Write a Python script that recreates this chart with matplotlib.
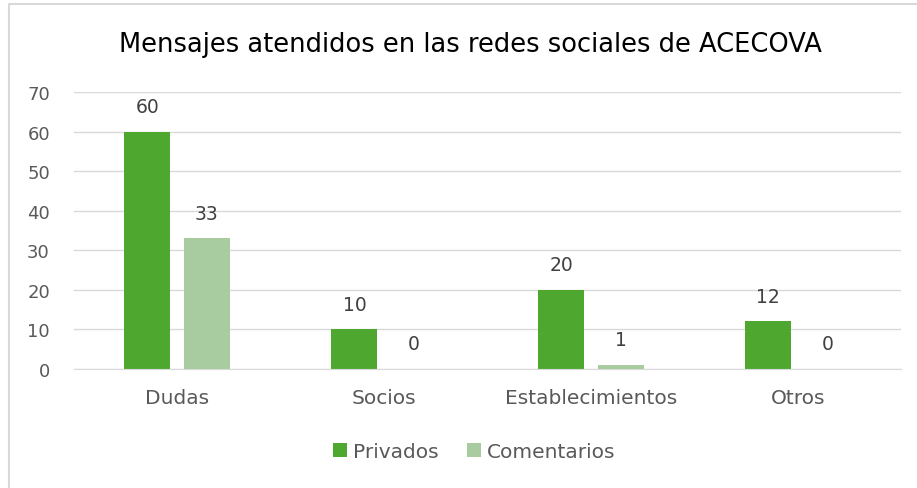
import matplotlib.pyplot as plt
import numpy as np
from matplotlib.lines import Line2D

categories = ['Dudas', 'Socios', 'Establecimientos', 'Otros']
privados = [60, 10, 20, 12]
comentarios = [33, 0, 1, 0]

text_color = '#595959'
green = '#4EA72E'
light_green = '#A9CBA0'

fig = plt.figure(figsize=(9.17, 4.89), dpi=100)
# chart border (only top and left edges are visible in the crop)
fig.lines.append(Line2D([0.0093, 0.0093, 1.0], [0.0, 0.99, 0.99], transform=fig.transFigure,
                        color='#D9D9D9', linewidth=1.5))
ax = fig.add_axes([0.0802, 0.2434, 0.9028, 0.5664])

x = np.arange(len(categories))
w = 0.222
b1 = ax.bar(x - 0.143, privados, w, color=green, label='Privados')
b2 = ax.bar(x + 0.143, comentarios, w, color=light_green, label='Comentarios')

for bars in (b1, b2):
    for r in bars:
        ax.text(r.get_x() + r.get_width() / 2, r.get_height() + 4.0, f'{int(r.get_height())}',
                ha='center', va='bottom', fontsize=13.5, color='#404040')

ax.set_xlim(-0.5, len(categories) - 0.5)
ax.set_ylim(0, 70)
ax.set_yticks(range(0, 71, 10))
ax.yaxis.grid(True, color='#D9D9D9', linewidth=1)
ax.set_axisbelow(True)
for s in ['top', 'right', 'left']:
    ax.spines[s].set_visible(False)
ax.spines['bottom'].set_color('#D9D9D9')
ax.tick_params(axis='both', length=0, colors=text_color)
ax.tick_params(axis='y', labelsize=13, pad=17)
ax.tick_params(axis='x', labelsize=14.5, pad=14)
ax.set_xticks(x)
ax.set_xticklabels(categories)

fig.text(0.513, 0.908, 'Mensajes atendidos en las redes sociales de ACECOVA',
         ha='center', va='center', fontsize=18.5, color='#000000')

fig.legend(handles=[b1, b2], loc='center', bbox_to_anchor=(0.517, 0.075), ncol=2,
           frameon=False, fontsize=14.5, labelcolor=text_color, handlelength=0.7,
           handleheight=0.7, handletextpad=0.3, columnspacing=1.4)

fig.savefig('out.png', dpi=100)
